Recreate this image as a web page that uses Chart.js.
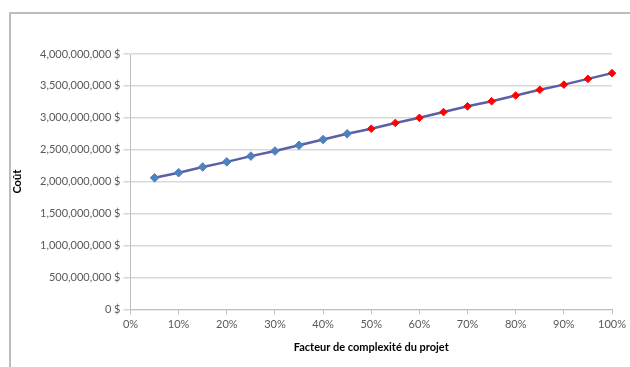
<!DOCTYPE html>
<html lang="fr">
<head>
<meta charset="utf-8">
<title>Coût selon le facteur de complexité du projet</title>
<script src="https://cdn.jsdelivr.net/npm/chart.js@4.4.1/dist/chart.umd.min.js"></script>
<style>
  html, body { margin: 0; padding: 0; background: #fff; }
  #wrap { position: relative; width: 630px; height: 367px; overflow: hidden; }
  #frame {
    position: absolute; left: 9px; top: 12px; width: 700px; height: 400px;
    border-top: 2px solid #bdbdbd; border-left: 2px solid #bdbdbd;
    box-sizing: border-box;
  }
  canvas { position: absolute; left: 0; top: 0; }
</style>
</head>
<body>
<div id="wrap">
  <div id="frame"></div>
  <canvas id="chart" width="630" height="367"></canvas>
</div>
<script>
// Facteur de complexité (%) et coût correspondant ($)
const complexite = [5, 10, 15, 20, 25, 30, 35, 40, 45, 50, 55, 60, 65, 70, 75, 80, 85, 90, 95, 100];
const cout = [
  2060000000, 2140000000, 2230000000, 2310000000, 2400000000,
  2480000000, 2570000000, 2660000000, 2750000000, 2830000000,
  2920000000, 3000000000, 3090000000, 3180000000, 3260000000,
  3350000000, 3440000000, 3520000000, 3610000000, 3700000000
];
// Seuil à partir duquel les points sont marqués en rouge
const seuilRouge = 50;

const xTicks = { min: 0, max: 100, step: 10 };
const yTicks = { min: 0, max: 4000000000, step: 500000000 };

const bleu = '#4f81bd';
const rouge = '#ff0000';

const points = complexite.map((x, i) => ({ x: x, y: cout[i] }));
const couleurs = complexite.map(x => (x >= seuilRouge ? rouge : bleu));
const rayons = complexite.map(x => (x >= seuilRouge ? 3.8 : 4.3));

const fontBase = { family: 'Lato, "Open Sans", sans-serif', size: 11 };
const fontTitre = { family: 'Lato, "Open Sans", sans-serif', size: 11, weight: 'bold' };

const formatDollar = v => Number(v).toLocaleString('en-US') + ' $';

new Chart(document.getElementById('chart'), {
  type: 'line',
  data: {
    datasets: [{
      data: points,
      clip: false,
      borderColor: '#5a5fa6',
      borderWidth: 2.5,
      tension: 0,
      pointStyle: 'rectRot',
      pointRadius: rayons,
      pointBackgroundColor: couleurs,
      pointBorderColor: couleurs,
      pointBorderWidth: 1
    }]
  },
  options: {
    responsive: false,
    animation: false,
    events: [],
    layout: { padding: { top: 54, right: 14, bottom: 0, left: 0 } },
    plugins: { legend: { display: false }, tooltip: { enabled: false } },
    scales: {
      x: {
        type: 'linear',
        min: xTicks.min,
        max: xTicks.max,
        ticks: {
          stepSize: xTicks.step,
          callback: v => v + '%',
          color: '#595959',
          font: fontBase,
          padding: 4,
          maxRotation: 0
        },
        grid: { drawOnChartArea: false, drawTicks: true, tickLength: 5, color: '#bfbfbf' },
        border: { color: '#bfbfbf', width: 1 },
        title: {
          display: true,
          text: 'Facteur de complexité du projet',
          color: '#000',
          font: fontTitre,
          padding: { top: 4, bottom: 13 }
        },
        afterFit: s => { s.height = 57.7; }
      },
      y: {
        min: yTicks.min,
        max: yTicks.max,
        ticks: {
          stepSize: yTicks.step,
          callback: formatDollar,
          color: '#595959',
          font: fontBase,
          padding: 3
        },
        grid: { color: '#d9d9d9', lineWidth: 1.5, tickLength: 7 },
        border: { color: '#bfbfbf', width: 1 },
        title: {
          display: true,
          text: 'Coût',
          color: '#000',
          font: fontTitre,
          padding: { top: 11, bottom: 0 }
        },
        afterFit: s => { s.width = 130.5; }
      }
    }
  }
});
</script>
</body>
</html>
